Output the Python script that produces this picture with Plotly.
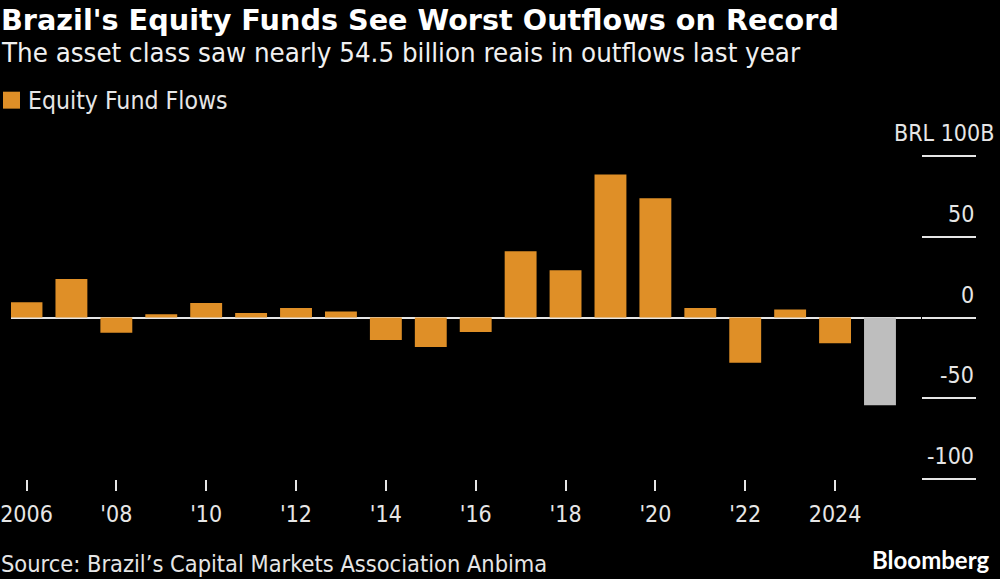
import plotly.graph_objects as go

years = list(range(2006, 2026))
flows = [9.5, 23.8, -9.5, 2.0, 9.0, 2.8, 5.9, 3.7, -13.9, -18.2, -9.0, 41.0, 29.3, 88.6, 73.8, 5.9, -28.0, 4.9, -16.0, -54.3]
tick_years = [2006, 2008, 2010, 2012, 2014, 2016, 2018, 2020, 2022, 2024]
tick_labels = ["2006", "'08", "'10", "'12", "'14", "'16", "'18", "'20", "'22", "2024"]
y_ticks = [100, 50, 0, -50, -100]
y_labels = ["BRL 100B", "50", "0", "-50", "-100"]

ORANGE = "#DF8F27"
GREY = "#BEBEBE"
TEXT = "#E6E6E6"
FONT = "DejaVu Sans Condensed, DejaVu Sans"

bar_colors = [GREY if y == 2025 else ORANGE for y in years]

fig = go.Figure(go.Bar(x=years, y=flows, marker_color=bar_colors, marker_line_width=0, width=0.71, showlegend=False))

fig.update_xaxes(
    range=[2005.655, 2025.913],
    tickvals=tick_years,
    ticktext=tick_labels,
    ticks="outside",
    ticklen=11,
    tickwidth=1.5,
    tickcolor=TEXT,
    ticklabelstandoff=3,
    tickfont=dict(family=FONT, size=23, color=TEXT),
    showgrid=False,
    showline=False,
    zeroline=False,
)
fig.update_yaxes(
    range=[-100, 100],
    side="right",
    tickvals=y_ticks,
    showticklabels=False,
    ticks="outside",
    ticklen=54,
    tickwidth=2,
    tickcolor=TEXT,
    showgrid=False,
    showline=False,
    zeroline=True,
    zerolinecolor=TEXT,
    zerolinewidth=2,
)

annotations = []
for val, label in zip(y_ticks, y_labels):
    annotations.append(dict(
        xref="paper", yref="y", x=1, y=val, text=label, showarrow=False,
        xanchor="right", yanchor="middle",
        xshift=75 if val == 100 else 55, yshift=23,
        font=dict(family=FONT, size=23, color=TEXT),
    ))


def page_text(px, py, text, size, color, family=FONT, anchor="left"):
    # px, py are page pixels, converted to the plot's paper coordinates
    return dict(
        xref="paper", yref="paper",
        x=(px - 11) / 910, y=(479.5 - py) / 324,
        text=text, showarrow=False, xanchor=anchor, yanchor="middle",
        font=dict(family=family, size=size, color=color),
    )


annotations += [
    page_text(-1, 19, "<b>Brazil's Equity Funds See Worst Outflows on Record</b>", 28.7, "#FFFFFF", "DejaVu Sans"),
    page_text(-1, 52, "The asset class saw nearly 54.5 billion reais in outflows last year", 27.4, "#F0F0F0"),
    page_text(26, 100, "Equity Fund Flows", 24.6, TEXT),
    page_text(-1, 565, "Source: Brazil’s Capital Markets Association Anbima", 23.4, TEXT),
    page_text(991, 560, "<b>Bloomberg</b>", 24, "#FFFFFF", "Lato", "right"),
]

fig.update_layout(
    width=1000,
    height=579,
    margin=dict(l=11, r=79, t=155.5, b=99.5, autoexpand=False),
    paper_bgcolor="#000000",
    plot_bgcolor="#000000",
    annotations=annotations,
    shapes=[dict(
        type="rect", xref="paper", yref="paper",
        x0=(3 - 11) / 910, x1=(20 - 11) / 910,
        y0=(479.5 - 108) / 324, y1=(479.5 - 91) / 324,
        fillcolor=ORANGE, line_width=0,
    )],
)

fig.write_html(
    "out.html",
    config={"displayModeBar": False},
    post_script="document.body.style.margin='0';document.body.style.overflow='hidden';document.body.style.background='#000';",
)
